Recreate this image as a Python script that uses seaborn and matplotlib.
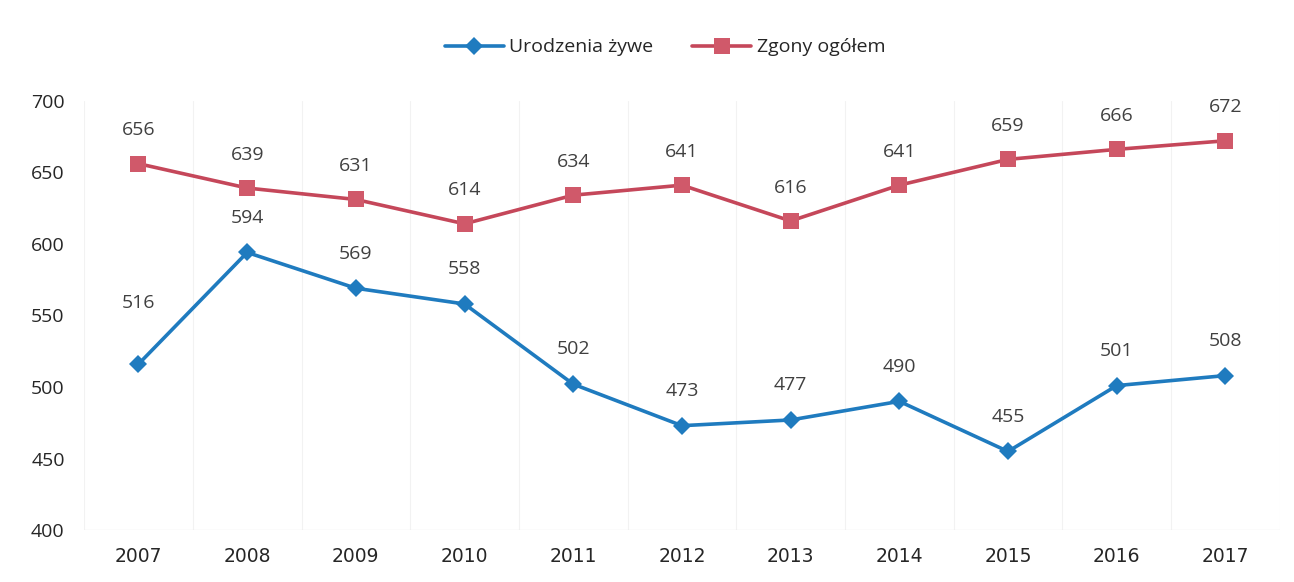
import matplotlib.pyplot as plt
import seaborn as sns
import numpy as np
import pandas as pd

lata = [2007, 2008, 2009, 2010, 2011, 2012, 2013, 2014, 2015, 2016, 2017]
urodzenia = [516, 594, 569, 558, 502, 473, 477, 490, 455, 501, 508]
zgony = [656, 639, 631, 614, 634, 641, 616, 641, 659, 666, 672]
serie = ['Urodzenia żywe', 'Zgony ogółem']

sns.set_style('white')
plt.rcParams['font.family'] = ['Open Sans', 'DejaVu Sans']

df = pd.DataFrame({
    'rok': lata * 2,
    'x': list(range(len(lata))) * 2,
    'wartosc': urodzenia + zgony,
    'seria': [serie[0]] * len(lata) + [serie[1]] * len(lata),
})

kolory = {serie[0]: '#1F7BBF', serie[1]: '#C5475A'}
znaczniki = {serie[0]: 'D', serie[1]: 's'}

fig = plt.figure(figsize=(12.94, 5.82), dpi=100)
ax = fig.add_axes([0.065, 0.089, 0.924, 0.738])

sns.lineplot(data=df, x='x', y='wartosc', hue='seria', style='seria',
             palette=kolory, markers=znaczniki, dashes=False,
             linewidth=2.6, markersize=9, markeredgewidth=0, ax=ax)
# kwadraty troche wieksze
for line in ax.lines:
    if line.get_marker() == 's':
        line.set_markersize(11)
        line.set_markerfacecolor('#D0596A')

for i in range(len(lata)):
    dy = 44 if i == 0 else 25
    ax.annotate(str(urodzenia[i]), (i, urodzenia[i]), xytext=(0, dy),
                textcoords='offset points', ha='center', va='center',
                fontsize=14, color='#404040')
    ax.annotate(str(zgony[i]), (i, zgony[i]), xytext=(0, 24),
                textcoords='offset points', ha='center', va='center',
                fontsize=14, color='#404040')

ax.set_xlim(-0.5, len(lata) - 0.5)
ax.set_ylim(400, 700)
ax.set_yticks(np.arange(400, 701, 50))
ax.set_xticks(range(len(lata)))
ax.set_xticklabels([str(r) for r in lata])
ax.tick_params(axis='y', labelsize=14, pad=14, length=0)
ax.tick_params(axis='x', pad=12, length=0)
for lab in ax.get_xticklabels():
    lab.set_fontproperties({'family': 'DejaVu Sans', 'size': 13.5})
    lab.set_color('#262626')
for lab in ax.get_yticklabels():
    lab.set_color('#262626')
ax.set_xlabel('')
ax.set_ylabel('')

# slabe pionowe linie miedzy kategoriami
for b in np.arange(-0.5, len(lata), 1.0):
    ax.axvline(b, color='#F2F2F2', linewidth=0.8, zorder=0)
ax.axhline(400, color='#EBEBEB', linewidth=1, zorder=0)
sns.despine(ax=ax, left=True, bottom=True, right=True, top=True)

h, l = ax.get_legend_handles_labels()
ax.legend(h, l, loc='center', bbox_to_anchor=(0.486, 1.124), ncol=2,
          frameon=False, fontsize=14, handlelength=3, columnspacing=2,
          handletextpad=0.3)

fig.savefig('out.png', dpi=100)
